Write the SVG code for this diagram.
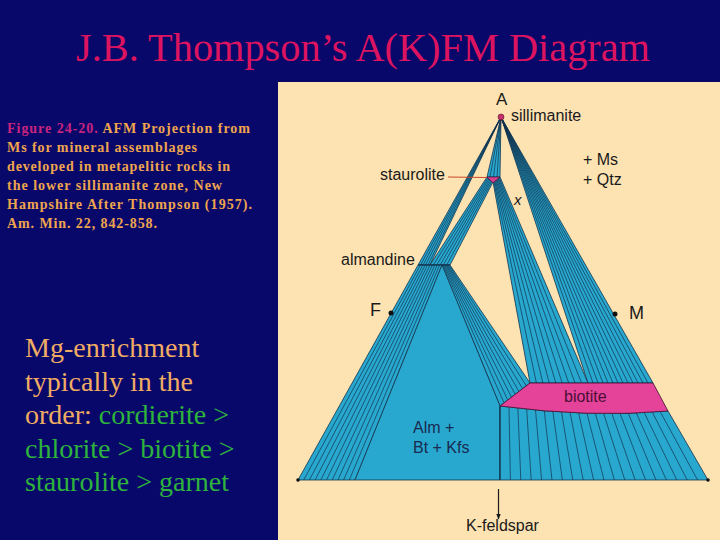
<svg xmlns="http://www.w3.org/2000/svg" width="720" height="540" viewBox="0 0 720 540">
<defs>
<style>
.bg{fill:#08086B}
.title{font-family:"Liberation Serif","Times New Roman",serif;font-size:40px;fill:#DC1460}
.cap{font-family:"Liberation Serif","Times New Roman",serif;font-size:14px;font-weight:bold;fill:#EFA54D}
.capm{fill:#C8247E}
.big{font-family:"Liberation Serif","Times New Roman",serif;font-size:28px;fill:#F1AC63}
.grn{fill:#2EB33C}
.panel{fill:#FDE3B2}
.fld{fill:#28A8CF;stroke:#13324D;stroke-width:0.8;stroke-linejoin:round}
.tie{stroke:#13324D;stroke-width:0.7;fill:none}
.lbl{font-family:"Liberation Sans",Arial,sans-serif;font-size:16px;fill:#1A1A1A}
.pink{fill:#E5429A;stroke:#3A1030;stroke-width:0.8}
</style>
<marker id="ah" viewBox="0 0 10 10" refX="9" refY="5" markerWidth="6" markerHeight="8" orient="auto" markerUnits="userSpaceOnUse">
<path d="M0,1 L10,5 L0,9 z" fill="#1A1A1A"/>
</marker>
</defs>
<rect class="bg" x="0" y="0" width="720" height="540"/>
<text id="title" class="title" x="76" y="61" textLength="574" lengthAdjust="spacingAndGlyphs">J.B. Thompson’s A(K)FM Diagram</text>
<g id="caption" class="cap">
<text x="7" y="133" textLength="243" lengthAdjust="spacing"><tspan class="capm">Figure 24-20.</tspan> AFM Projection from</text>
<text x="7" y="152" textLength="190" lengthAdjust="spacing">Ms for mineral assemblages</text>
<text x="7" y="171" textLength="223" lengthAdjust="spacing">developed in metapelitic rocks in</text>
<text x="7" y="190" textLength="215" lengthAdjust="spacing">the lower sillimanite zone,  New</text>
<text x="7" y="209" textLength="245" lengthAdjust="spacing">Hampshire After Thompson (1957).</text>
<text x="7" y="228" textLength="150" lengthAdjust="spacing">Am. Min. 22, 842-858.</text>
</g>
<g id="note" class="big">
<text x="25" y="357">Mg-enrichment</text>
<text x="25" y="391">typically in the</text>
<text x="25" y="424">order: <tspan class="grn">cordierite &gt;</tspan></text>
<text x="25" y="458" class="grn">chlorite &gt; biotite &gt;</text>
<text x="25" y="491" class="grn">staurolite &gt; garnet</text>
</g>
<rect class="panel" x="278" y="82" width="442" height="458"/>
<g id="fields">
<polygon id="sil-alm" class="fld" points="501,117 418,265 430,265"/>
<polygon id="sil-st" class="fld" points="501,117 487,177 500,177"/>
<polygon id="st-alm" class="fld" points="487,177 493,182 450,265 430,265"/>
<polygon id="st-bt" class="fld" points="493,182 500,177 588,383 530,383"/>
<polygon id="sil-bt" class="fld" points="501,117 588,383 653,383"/>
<polygon id="alm-bt" class="fld" points="442,265 450,265 530,383 500,406"/>
<polygon id="alm-kfs" class="fld" points="418,265 442,265 355,480 298,480"/>
<polygon id="alm-bt-kfs" class="fld" points="442,265 500,406 500,480 355,480"/>
<path id="bt-kfs" class="fld" d="M500,406 Q590,418 668,411 L708,480 L500,480 Z"/>
</g>
<g id="connectors">
<g id="ties-sil-alm" class="tie">
<line x1="501" y1="117" x2="420.5" y2="265"/><line x1="501" y1="117" x2="423" y2="265"/><line x1="501" y1="117" x2="425.5" y2="265"/><line x1="501" y1="117" x2="428" y2="265"/>
</g>
<g id="ties-sil-st" class="tie">
<line x1="501" y1="117" x2="490" y2="177"/><line x1="501" y1="117" x2="493.5" y2="177"/><line x1="501" y1="117" x2="497" y2="177"/>
</g>
<g id="ties-st-alm" class="tie">
<line x1="488" y1="177.8" x2="433.3" y2="265"/><line x1="489" y1="178.7" x2="436.7" y2="265"/><line x1="490" y1="179.5" x2="440" y2="265"/><line x1="491" y1="180.3" x2="443.3" y2="265"/><line x1="492" y1="181.2" x2="446.7" y2="265"/>
</g>
<g id="ties-st-bt" class="tie">
<line x1="493.8" y1="181.4" x2="536.4" y2="383"/><line x1="494.6" y1="180.9" x2="542.9" y2="383"/><line x1="495.3" y1="180.3" x2="549.3" y2="383"/><line x1="496.1" y1="179.8" x2="555.8" y2="383"/><line x1="496.9" y1="179.2" x2="562.2" y2="383"/><line x1="497.7" y1="178.7" x2="568.7" y2="383"/><line x1="498.4" y1="178.1" x2="575.1" y2="383"/><line x1="499.2" y1="177.6" x2="581.6" y2="383"/>
</g>
<g id="ties-sil-bt" class="tie">
<line x1="501" y1="117" x2="593" y2="383"/><line x1="501" y1="117" x2="598" y2="383"/><line x1="501" y1="117" x2="603" y2="383"/><line x1="501" y1="117" x2="608" y2="383"/><line x1="501" y1="117" x2="613" y2="383"/><line x1="501" y1="117" x2="618" y2="383"/><line x1="501" y1="117" x2="623" y2="383"/><line x1="501" y1="117" x2="628" y2="383"/><line x1="501" y1="117" x2="633" y2="383"/><line x1="501" y1="117" x2="638" y2="383"/><line x1="501" y1="117" x2="643" y2="383"/><line x1="501" y1="117" x2="648" y2="383"/>
</g>
<g id="ties-alm-bt" class="tie">
<line x1="443" y1="265" x2="503.8" y2="402.3"/><line x1="444" y1="265" x2="507.5" y2="399.5"/><line x1="445" y1="265" x2="511.3" y2="396.8"/><line x1="446" y1="265" x2="515" y2="394"/><line x1="447" y1="265" x2="518.8" y2="391.3"/><line x1="448" y1="265" x2="522.5" y2="388.5"/><line x1="449" y1="265" x2="526.3" y2="385.8"/>
</g>
<g id="ties-alm-kfs" class="tie">
<line x1="420.4" y1="265" x2="303.7" y2="480"/><line x1="422.8" y1="265" x2="309.4" y2="480"/><line x1="425.2" y1="265" x2="315.1" y2="480"/><line x1="427.6" y1="265" x2="320.8" y2="480"/><line x1="430" y1="265" x2="326.5" y2="480"/><line x1="432.4" y1="265" x2="332.2" y2="480"/><line x1="434.8" y1="265" x2="337.9" y2="480"/><line x1="437.2" y1="265" x2="343.6" y2="480"/><line x1="439.6" y1="265" x2="349.3" y2="480"/>
</g>
<g id="ties-bt-kfs" class="tie">
<line x1="509" y1="407.2" x2="510.4" y2="480"/><line x1="517.9" y1="408.2" x2="520.8" y2="480"/><line x1="526.7" y1="409.2" x2="531.2" y2="480"/><line x1="535.5" y1="410" x2="541.6" y2="480"/><line x1="544.3" y1="410.8" x2="552" y2="480"/><line x1="552.9" y1="411.5" x2="562.4" y2="480"/><line x1="561.5" y1="412.1" x2="572.8" y2="480"/><line x1="570.1" y1="412.6" x2="583.2" y2="480"/><line x1="578.6" y1="413" x2="593.6" y2="480"/><line x1="587" y1="413.3" x2="604" y2="480"/><line x1="595.4" y1="413.5" x2="614.4" y2="480"/><line x1="603.7" y1="413.6" x2="624.8" y2="480"/><line x1="611.9" y1="413.6" x2="635.2" y2="480"/><line x1="620.1" y1="413.5" x2="645.6" y2="480"/><line x1="628.3" y1="413.3" x2="656" y2="480"/><line x1="636.3" y1="413" x2="666.4" y2="480"/><line x1="644.3" y1="412.7" x2="676.8" y2="480"/><line x1="652.3" y1="412.2" x2="687.2" y2="480"/><line x1="660.2" y1="411.7" x2="697.6" y2="480"/>
</g>
<line id="kfs-line" x1="500" y1="406" x2="500" y2="480" stroke="#13324D" stroke-width="1"/>
<line id="alm-line" x1="418" y1="265" x2="450" y2="265" stroke="#13324D" stroke-width="1"/>
<line id="st-leader" x1="448" y1="177" x2="488" y2="177.5" stroke="#C8482A" stroke-width="1"/>
<line id="kfs-arrow" x1="498.5" y1="489" x2="498.5" y2="519" stroke="#1A1A1A" stroke-width="1.2" marker-end="url(#ah)"/>
</g>
<g id="biotite">
<path class="pink" d="M530,383 L653,383 L668,411 Q590,418 500,406 Z"/>
<text class="lbl" x="564" y="402" fill="#4A1035" style="fill:#4A1035">biotite</text>
</g>
<g id="staurolite">
<polygon points="487,177 500,177 493,183" fill="#D33F8A" stroke="#3A1030" stroke-width="0.6"/>
<text class="lbl" x="380" y="180">staurolite</text>
</g>
<g id="sillimanite">
<circle cx="501" cy="117" r="3" fill="#C8306A" stroke="#5A1030" stroke-width="0.6"/>
<text class="lbl" x="496" y="105" style="font-size:17px">A</text>
<text class="lbl" x="511" y="121">sillimanite</text>
</g>
<g id="almandine"><text class="lbl" x="341" y="265">almandine</text></g>
<g id="F"><circle cx="391" cy="313" r="2.5" fill="#111"/><text class="lbl" x="370" y="316" style="font-size:18px">F</text></g>
<g id="M"><circle cx="615" cy="314" r="2.5" fill="#111"/><text class="lbl" x="629" y="319" style="font-size:18px">M</text></g>
<g id="corners"><circle cx="298" cy="480" r="1.8" fill="#111"/><circle cx="708" cy="480" r="1.8" fill="#111"/></g>
<g id="msqtz"><text class="lbl" x="583" y="165">+ Ms</text><text class="lbl" x="583" y="185">+ Qtz</text></g>
<g id="xmark"><text class="lbl" x="514" y="205" style="font-style:italic;font-size:15px">x</text></g>
<g id="abk"><text class="lbl" x="413" y="433" fill="#1A2A50" style="fill:#1A2A50">Alm +</text><text class="lbl" x="413" y="453" style="fill:#1A2A50">Bt + Kfs</text></g>
<g id="kfeldspar"><text class="lbl" x="466" y="531">K-feldspar</text></g>
</svg>
